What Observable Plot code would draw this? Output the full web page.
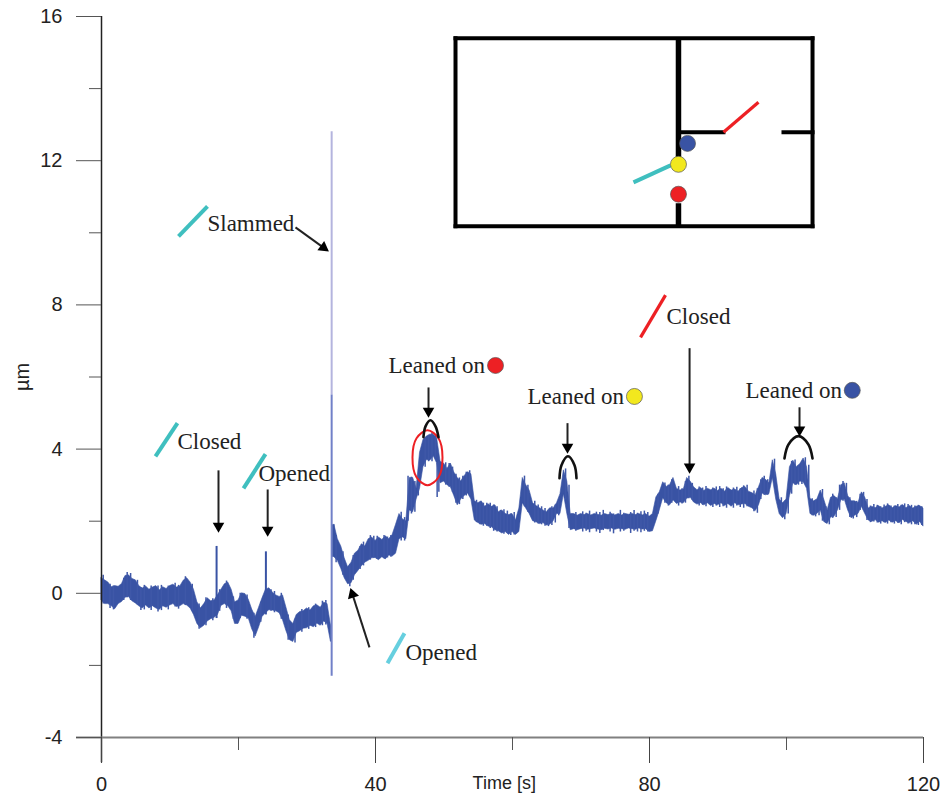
<!DOCTYPE html>
<html><head><meta charset="utf-8">
<script src="https://cdn.jsdelivr.net/npm/d3@7"></script>
<script src="https://cdn.jsdelivr.net/npm/@observablehq/plot@0.6"></script>
<style>html,body{margin:0;padding:0;background:#fff}svg{display:block}</style>
</head><body><div id="chart"></div>
<script>
// Displacement trace: upper and lower edge of the noisy band, read every 0.5 s from t = 0 to t = 120
const traceHigh = [
 .42,.36,.30,.17,.2,.18,.26,.48,.5,.4,.36,.2,.13,.19,.1,.16,.2,.08,.17,.12,
 .2,.24,.16,.19,.35,.42,.3,.1,-.25,-.42,-.3,-.14,-.22,-.2,-.05,.1,.25,.3,.1,-.25,
 -.2,0,-.02,-.18,-.45,-.66,-.4,-.14,.1,.14,.02,-.06,-.1,-.06,-.4,-.75,-.85,-.6,-.52,-.5,
 -.42,-.48,-.36,-.33,-.4,-.26,-.3,-.9,1.9,1.5,1.3,.97,.72,.85,1.1,1.18,1.36,1.3,1.5,1.55,
 1.45,1.55,1.48,1.58,1.5,1.62,1.9,2.2,2.05,2.0,3.2,3.2,2.9,3.9,4.25,4.35,4.4,4.4,4.3,3.65,
 3.6,3.45,3.6,3.35,3.2,3.1,3.25,3.36,3.3,2.55,2.5,2.55,2.4,2.47,2.4,2.44,2.25,2.3,2.2,2.17,
 2.2,2.02,2.35,3.2,3.0,2.85,2.5,2.42,2.36,2.3,2.25,2.36,2.35,2.5,2.75,3.41,3.1,2.2,2.2,2.15,
 2.2,2.17,2.2,2.16,2.2,2.18,2.15,2.2,2.17,2.2,2.16,2.2,2.16,2.2,2.18,2.2,2.17,2.2,2.16,2.2,
 2.12,2.2,2.66,2.8,3.08,2.95,3.0,3.2,2.9,2.85,2.88,3.2,3.1,2.94,2.86,2.92,2.84,2.9,2.86,2.9,
 2.84,2.9,2.82,2.92,2.85,2.88,2.82,2.92,2.95,2.82,2.78,2.72,2.95,3.2,3.15,3.05,3.69,3.3,2.6,2.5,
 2.6,3.5,3.68,3.5,3.58,3.74,3.5,2.62,2.55,2.6,2.85,2.6,2.3,2.65,2.7,2.6,3.0,3.05,2.7,2.55,
 2.55,2.5,2.8,2.65,2.35,2.4,2.36,2.42,2.35,2.4,2.44,2.36,2.42,2.38,2.45,2.36,2.42,2.35,2.4,2.42,2.35
];
const traceLow = [
 -.2,-.3,-.3,-.36,-.44,-.3,-.24,-.12,-.1,-.22,-.28,-.36,-.42,-.34,-.42,-.36,-.42,-.46,-.36,-.4,
 -.34,-.3,-.38,-.36,-.3,-.34,-.42,-.6,-.85,-.97,-.9,-.78,-.72,-.68,-.6,-.35,-.3,-.36,-.5,-.85,
 -.85,-.62,-.65,-.7,-1.0,-1.2,-.95,-.66,-.55,-.47,-.48,-.5,-.55,-.75,-1.05,-1.3,-1.35,-1.1,-1.05,-.98,
 -.97,-.9,-.94,-.84,-.9,-.78,-.85,-1.35,1.0,.9,.68,.42,.25,.28,.5,.62,.75,.85,.9,.97,
 .98,.92,1.0,.94,1.05,1.02,1.1,1.5,1.55,1.5,2.3,2.25,2.6,2.9,3.5,3.7,3.68,3.8,3.6,3.05,
 3.1,3.0,2.94,2.7,2.44,2.6,2.7,2.77,2.6,2.02,1.95,1.9,1.92,1.85,1.83,1.75,1.72,1.66,1.7,1.62,
 1.7,1.62,1.7,2.5,2.35,2.2,2.0,1.97,1.92,1.95,1.88,1.9,2.0,2.2,2.2,2.75,2.2,1.75,1.78,1.75,
 1.78,1.8,1.76,1.78,1.8,1.77,1.75,1.79,1.77,1.8,1.76,1.79,1.78,1.76,1.8,1.78,1.76,1.8,1.77,1.78,
 1.7,1.72,2.0,2.3,2.64,2.5,2.44,2.58,2.48,2.52,2.5,2.62,2.66,2.52,2.46,2.5,2.44,2.5,2.42,2.48,
 2.44,2.5,2.42,2.48,2.4,2.5,2.44,2.46,2.48,2.4,2.36,2.28,2.45,2.77,2.72,2.75,3.2,2.6,2.2,2.08,
 2.2,2.7,3.05,3.0,3.1,3.08,2.9,2.2,2.15,2.2,2.3,1.98,1.92,2.1,2.12,2.3,2.58,2.6,2.3,2.08,
 2.15,2.2,2.4,2.2,2.02,1.98,2.03,1.96,2.0,1.95,2.02,1.96,2.0,1.94,2.03,1.98,1.94,2.0,1.9,1.98,1.85
];
const traceTime = traceHigh.map((_, i) => i / 2);
const slamTime = 33.6;

// Short vertical noise strokes between the samples: [time, low, high]
const noiseStrokes = [
 [.25,-.3,.5],[1.25,-.42,.25],[1.75,-.46,.2],[3.25,-.2,.42],[3.75,-.12,.58],[4.25,-.2,.55],[5.25,-.32,.36],[5.75,-.48,.16],[6.25,-.46,.22],[7.25,-.48,.2],[8.25,-.52,.2],[8.75,-.48,.22],[9.75,-.46,.2],[10.75,-.38,.28],[11.25,-.44,.22],[12.25,-.34,.46],[13.25,-.5,.25],
 [14.25,-1.0,-.3],[15.25,-.9,-.12],[16.25,-.76,-.15],[17.25,-.5,.1],[18.25,-.42,.34],[19.25,-.72,-.1],[20.25,-.7,.0],[21.25,-.72,-.05],[22.25,-1.25,-.55],[23.25,-.8,-.25],[24.75,-.5,.1],[25.25,-.54,.05],[26.25,-.72,0],[27.25,-1.3,-.6],[28.25,-1.38,-.72],[29.25,-1.08,-.45],[30.25,-1.0,-.4],[31.25,-.95,-.3],[32.25,-.9,-.22],[32.75,-.88,-.2],
 [34.25,.85,1.6],[35.25,.5,1.15],[36.25,.18,.8],[36.75,.36,1.05],[37.75,.66,1.3],[38.25,.76,1.42],[39.25,.92,1.6],[39.75,.98,1.58],[40.25,.94,1.58],[41.25,.96,1.6],[41.75,.98,1.56],[42.25,1.0,1.6],[43.75,1.45,2.25],[44.25,1.45,2.1],[44.75,2.0,3.25],
 [45.25,2.2,3.22],[45.75,2.25,3.1],[46.25,2.7,3.25],[47.25,3.5,4.3],[47.75,3.65,4.38],[48.25,3.65,4.45],[48.75,3.75,4.4],[49,2.66,3.6],[49.25,2.8,3.65],[50.25,3.0,3.62],[50.75,2.94,3.6],[51.25,2.8,3.5],[51.75,2.5,3.3],[52.25,2.46,3.2],[52.75,2.6,3.25],[53.25,2.7,3.36],[53.75,2.7,3.4],[54.75,1.96,2.58],[55.25,1.9,2.52],[55.75,1.86,2.5],[56.25,1.86,2.5],[56.75,1.8,2.5],[57.25,1.72,2.45],[57.75,1.7,2.4],[58.25,1.7,2.3],[58.75,1.64,2.32],[59.25,1.66,2.28],[59.75,1.6,2.2],[60.25,1.62,2.24],
 [61.75,2.4,3.25],[62.25,2.25,3.0],[63.25,1.95,2.55],[63.75,1.92,2.45],[64.25,1.9,2.4],[64.75,1.86,2.35],[65.25,1.85,2.3],[65.75,1.88,2.4],[66.25,1.95,2.45],[66.75,2.15,2.55],[67.75,2.6,3.45],[68.25,1.8,3.0],
 [69.25,1.72,2.24],[70.25,1.7,2.26],[70.75,1.72,2.22],[71.25,1.68,2.28],[72.25,1.7,2.25],[72.75,1.66,2.24],[73.25,1.74,2.3],[74.25,1.7,2.25],[74.75,1.65,2.2],[75.75,1.7,2.3],[76.25,1.72,2.22],[77.25,1.66,2.24],[77.75,1.72,2.3],[78.25,1.7,2.22],[78.75,1.68,2.26],[79.25,1.72,2.28],[79.75,1.7,2.24],
 [81.25,2.2,2.75],[82.25,2.5,3.06],[82.75,2.42,3.0],[83.25,2.5,3.15],[84.25,2.42,2.96],[84.75,2.48,2.9],[85.25,2.5,3.1],[85.75,2.62,3.25],[86.25,2.58,3.05],[87.25,2.42,2.95],[87.75,2.44,2.92],[88.25,2.4,2.96],[89.25,2.38,2.92],[89.75,2.42,2.95],[90.25,2.38,2.96],[90.75,2.4,2.9],[91.25,2.36,2.95],[92.25,2.36,2.92],[92.75,2.42,2.94],[93.25,2.38,2.9],[93.75,2.36,2.98],[94.25,2.4,3.0],[95.25,2.26,2.84],[95.75,2.22,2.9],
 [96.25,2.6,3.15],[96.75,2.72,3.25],[97.25,2.72,3.15],[98.25,3.2,3.72],[99.25,2.2,2.65],[99.75,2.04,2.55],[100.25,2.2,2.65],[100.75,2.75,3.66],[101.25,3.0,3.7],[101.75,3.0,3.55],[102.25,3.02,3.65],[102.75,3.05,3.76],[103.25,2.7,3.55],[103.75,2.15,2.62],[104.25,2.12,2.58],[104.75,2.15,2.7],[105.25,2.0,2.88],[105.75,1.94,2.4],[106.25,1.9,2.4],[106.75,2.08,2.75],[107.25,2.1,2.65],[107.75,2.3,3.0],[108.25,2.55,3.1],[108.75,2.58,3.05],[109.25,2.1,2.65],[109.75,2.06,2.55],[110.25,2.1,2.55],[110.75,2.3,2.75],[111.25,2.3,2.8],[111.75,2.02,2.6],
 [112.25,1.96,2.42],[112.75,1.98,2.46],[113.25,1.95,2.44],[113.75,1.92,2.4],[114.25,1.96,2.45],[114.75,1.92,2.48],[115.25,1.96,2.42],[115.75,1.92,2.42],[116.25,1.94,2.46],[116.75,1.9,2.44],[117.25,1.96,2.48],[117.75,1.92,2.46],[118.25,1.9,2.44],[118.75,1.9,2.42],[119.25,1.88,2.44],[119.75,1.88,2.4]
];

// Narrow spikes in the trace
const spikeTime = [16.8, 24.0, 33.85];
const spikeLow = [-.7, -.6, 1.0];
const spikeHigh = [1.3, 1.15, 1.9];
const slamLowerSpan = [-2.3, 5.5];
const slamUpperSpan = [5.5, 12.8];

// Axes
const xMajor = [0, 40, 80, 120];
const xMinor = [20, 60, 100];
const yMajor = [-4, 0, 4, 8, 12, 16];
const yMinor = [-2, 2, 6, 10, 14];

// Text labels
const labelText = ["Slammed","Closed","Opened","Leaned on","Leaned on","Closed","Leaned on","Opened"];
const labelX = [15.47, 11.09, 22.92, 41.9, 62.19, 82.48, 94.01, 44.38];
const labelY = [10.26, 4.22, 3.33, 6.32, 5.46, 7.68, 5.63, -1.64];

// Arrows: shaft start, shaft end at the head, head angle
const arrowX1 = [17.08, 24.26, 28.32, 39.12, 47.74, 68.03, 85.85, 101.9];
const arrowY1 = [3.41, 2.88, 10.15, -1.50, 5.71, 4.72, 6.8, 5.16];
const arrowX2 = [17.08, 24.26, 32.41, 36.64, 47.74, 68.03, 85.85, 101.9];
const arrowY2 = [1.865, 1.755, 9.59, -.03, 5.055, 4.055, 3.505, 4.535];
const arrowAngle = [180, 180, 126, -18, 180, 180, 180, 180];

// Door strokes
const tealDoors = [[11.24, 9.90, 15.47, 10.73], [7.88, 3.80, 11.09, 4.72], [20.73, 2.91, 23.94, 3.86], [77.66, 11.40, 83.07, 11.87]];
const cyanDoors = [[41.75, -1.94, 44.23, -1.11]];
const redDoors = [[78.69, 7.10, 82.34, 8.27], [90.8, 12.79, 95.91, 13.62]];

// Floor plan walls
const walls = [
 [51.68, 15.40, 103.8, 15.40], [103.8, 15.40, 103.8, 10.18], [103.8, 10.18, 51.68, 10.18], [51.68, 10.18, 51.68, 15.40],
 [84.23, 12.79, 90.8, 12.79], [99.56, 12.79, 103.8, 12.79]
];
const centerWalls = [[84.23, 15.40, 84.23, 12.09], [84.23, 10.82, 84.23, 10.18]];

// Markers
const blueMarks = [[85.55, 12.48], [109.6, 5.63]];
const yellowMarks = [[84.23, 11.9], [77.8, 5.46]];
const redMarks = [[84.23, 11.07], [57.52, 6.32]];

// "Leaned on" arcs and the red ellipse
const arcs = [
 [[47.0,4.33],[47.3,4.63],[48.03,4.80],[48.76,4.63],[49.2,4.33]],
 [[66.86,3.19],[67.15,3.55],[68.1,3.80],[69.05,3.55],[69.34,3.19]],
 [[99.7,3.74],[100.29,4.13],[101.75,4.36],[103.2,4.13],[103.8,3.74]]
];
const ellipse = [[47.59,4.52],[49.2,4.30],[49.78,3.77],[49.2,3.22],[47.59,3.0],[45.99,3.22],[45.4,3.77],[45.99,4.30]];

const traceRows = traceTime.map((t, i) => ({t, low: traceLow[i], high: traceHigh[i], seg: t < slamTime ? "before" : "after"}));
const arrowRows = arrowX1.map((x1, i) => ({x1, y1: arrowY1[i], x2: arrowX2[i], y2: arrowY2[i], a: arrowAngle[i]}));
const arcRows = arcs.flatMap((pts, k) => pts.map(p => ({x: p[0], y: p[1], k})));
const doorMark = (rows, stroke, strokeWidth) => Plot.link(rows, {x1: d => d[0], y1: d => d[1], x2: d => d[2], y2: d => d[3], stroke, strokeWidth, strokeLinecap: "butt"});
const dotMark = (rows, fill) => Plot.dot(rows, {x: d => d[0], y: d => d[1], r: 8, fill, stroke: "#555", strokeWidth: 0.7});
const sans = "Liberation Sans";
const serif = "Liberation Serif";

const chart = Plot.plot({
  width: 945, height: 796,
  marginLeft: 101, marginRight: 22, marginTop: 16, marginBottom: 59,
  x: {domain: [0, 120]},
  y: {domain: [-4, 16]},
  style: {fontFamily: sans, background: "#fff", color: "#222"},
  marks: [
    // trace
    Plot.ruleX([slamTime], {y1: slamUpperSpan[0], y2: slamUpperSpan[1], stroke: "#b4b4de", strokeWidth: 2}),
    Plot.ruleX([slamTime], {y1: slamLowerSpan[0], y2: slamLowerSpan[1], stroke: "#7180c8", strokeWidth: 2}),
    Plot.areaY(traceRows, {x: "t", y1: "low", y2: "high", z: "seg", fill: "#3953a4", stroke: "#3953a4", strokeWidth: 1, strokeOpacity: 0.6}),
    Plot.ruleX(noiseStrokes, {x: d => d[0], y1: d => d[1], y2: d => d[2], stroke: "#3f58a8", strokeWidth: 1.5}),
    Plot.ruleX(spikeTime, {y1: (d, i) => spikeLow[i], y2: (d, i) => spikeHigh[i], stroke: "#3953a4", strokeWidth: 2}),
    // axes
    Plot.ruleX([0], {y1: -4.7, y2: 16, stroke: "#222", strokeWidth: 1.5}),
    Plot.ruleY([-4], {x1: -3.65, x2: 120, stroke: "#808080", strokeWidth: 2}),
    Plot.axisX({ticks: xMajor, tickSize: 26, tickPadding: 13, fontSize: 20, label: null, tickFormat: String, stroke: "#444"}),
    Plot.axisX({ticks: xMinor, tickSize: 13, tickFormat: () => "", label: null, stroke: "#555"}),
    Plot.axisY({ticks: yMajor, tickSize: 25, tickPadding: 14, fontSize: 20, label: null, tickFormat: String, stroke: "#555"}),
    Plot.axisY({ticks: yMinor, tickSize: 12, tickFormat: () => "", label: null, stroke: "#555"}),
    Plot.text(["Time [s]"], {x: 58.8, y: -5.27, fontSize: 18, fill: "#222"}),
    Plot.text(["µm"], {x: -11.5, y: 6, fontSize: 20, rotate: -90, fill: "#222", letterSpacing: 3}),
    // floor plan
    Plot.link(walls, {x1: d => d[0], y1: d => d[1], x2: d => d[2], y2: d => d[3], stroke: "#000", strokeWidth: 4, strokeLinecap: "square"}),
    Plot.link(centerWalls, {x1: d => d[0], y1: d => d[1], x2: d => d[2], y2: d => d[3], stroke: "#000", strokeWidth: 5.5}),
    doorMark(tealDoors, "#3fbfbf", 4),
    doorMark(cyanDoors, "#66cfdf", 4),
    doorMark(redDoors, "#ed2024", 3.2),
    dotMark(blueMarks, "#3953a4"),
    dotMark(yellowMarks, "#f2e81e"),
    dotMark(redMarks, "#ed2024"),
    // annotations
    Plot.line(ellipse, {x: d => d[0], y: d => d[1], curve: "catmull-rom-closed", stroke: "#ed2024", strokeWidth: 2, fill: "none"}),
    Plot.line(arcRows, {x: "x", y: "y", z: "k", curve: "catmull-rom", stroke: "#111", strokeWidth: 2.6, fill: "none"}),
    Plot.link(arrowRows, {x1: "x1", y1: "y1", x2: "x2", y2: "y2", stroke: "#222", strokeWidth: 2}),
    Plot.dot(arrowRows, {x: "x2", y: "y2", symbol: "triangle", r: 4.3, rotate: "a", fill: "#000", stroke: "none"}),
    Plot.text(labelText, {x: (d, i) => labelX[i], y: (d, i) => labelY[i], textAnchor: "start", fontFamily: serif, fontSize: 23, fill: "#222"})
  ]
});
document.getElementById("chart").append(chart);
</script></body></html>
